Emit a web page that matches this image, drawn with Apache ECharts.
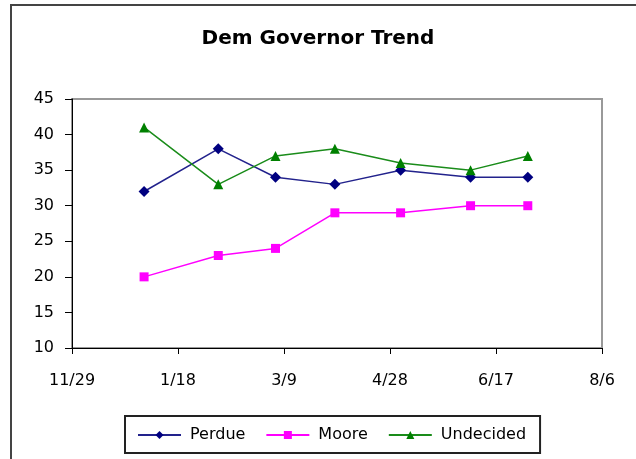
<!DOCTYPE html>
<html>
<head>
<meta charset="utf-8">
<script src="https://cdn.jsdelivr.net/npm/echarts@6/dist/echarts.min.js"></script>
<style>
  html, body { margin: 0; padding: 0; background: #fff; }
  #chart { width: 636px; height: 459px; }
</style>
</head>
<body>
<div id="chart"></div>
<script>
// days counted from 11/29 (x axis runs 11/29 .. 8/6, 50 days per tick)
var tickLabels = ['11/29', '1/18', '3/9', '4/28', '6/17', '8/6'];
var pollDays = [34, 69, 96, 124, 155, 188, 215];

var perdue = [32, 38, 34, 33, 35, 34, 34];
var moore = [20, 23, 24, 29, 29, 30, 30];
var undecided = [41, 33, 37, 38, 36, 35, 37];

function pairs(vals) {
	var out = [];
	for (var i = 0; i < vals.length; i++) {
		out.push([pollDays[i], vals[i]]);
	}
	return out;
}

var font = 'DejaVu Sans, Liberation Sans, sans-serif';

var chart = echarts.init(document.getElementById('chart'));

chart.setOption({
	animation: false,
	title: {
		text: 'Dem Governor Trend',
		left: 'center',
		top: 24,
		textStyle: { fontFamily: font, fontSize: 20, fontWeight: 'bold', color: '#000' }
	},
	graphic: [{
		type: 'rect',
		shape: { x: 11, y: 5, width: 700, height: 500 },
		style: { fill: 'none', stroke: '#444', lineWidth: 2 },
		silent: true
	}],
	grid: {
		left: 72, right: 34, top: 99, bottom: 111,
		show: true, borderColor: '#999', borderWidth: 2, backgroundColor: '#fff'
	},
	legend: {
		top: 416,
		left: 125,
		itemWidth: 43,
		itemHeight: 10,
		itemGap: 20,
		padding: [11, 14, 10, 12],
		borderColor: '#222',
		borderWidth: 2,
		textStyle: { fontFamily: font, fontSize: 16, color: '#000', padding: [0, 0, 0, 4] },
		data: ['Perdue', 'Moore', 'Undecided']
	},
	xAxis: {
		type: 'value',
		min: 0, max: 250, interval: 50,
		splitLine: { show: false },
		axisLine: { lineStyle: { color: '#000', width: 1 } },
		axisTick: { inside: false, length: 6, lineStyle: { color: '#000' } },
		axisLabel: {
			margin: 25,
			fontFamily: font, fontSize: 16, color: '#000',
			formatter: function(v) { return tickLabels[Math.round(v / 50)]; }
		}
	},
	yAxis: {
		type: 'value',
		min: 10, max: 45, interval: 5,
		splitLine: { show: false },
		axisLine: { show: true, lineStyle: { color: '#000', width: 1 } },
		axisTick: { show: true, inside: false, length: 7, lineStyle: { color: '#000' } },
		axisLabel: { margin: 18, fontFamily: font, fontSize: 16, color: '#000' }
	},
	series: [{
		name: 'Perdue',
		type: 'line',
		data: pairs(perdue),
		symbol: 'diamond',
		symbolSize: 11,
		itemStyle: { color: '#000080' },
		lineStyle: { color: '#22228c', width: 1.5 }
	}, {
		name: 'Moore',
		type: 'line',
		data: pairs(moore),
		symbol: 'rect',
		symbolSize: 9,
		itemStyle: { color: '#ff00ff' },
		lineStyle: { color: '#ff00ff', width: 1.5 }
	}, {
		name: 'Undecided',
		type: 'line',
		data: pairs(undecided),
		symbol: 'triangle',
		symbolSize: 10,
		itemStyle: { color: '#008000' },
		lineStyle: { color: '#1a8c1a', width: 1.5 }
	}]
});
</script>
</body>
</html>
